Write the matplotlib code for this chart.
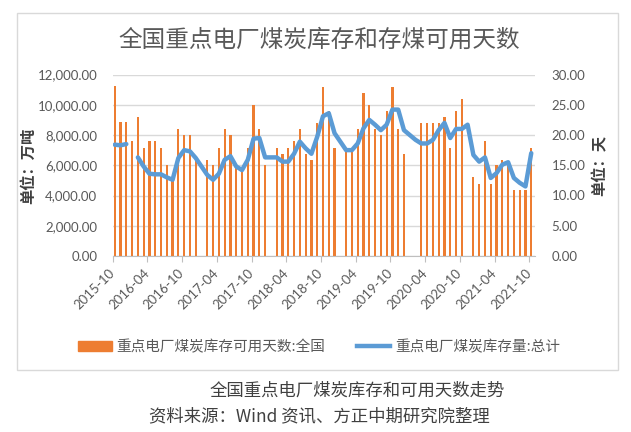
import numpy as np
import matplotlib
matplotlib.use("Agg")
import matplotlib.pyplot as plt
from matplotlib.patches import Rectangle, Patch
from matplotlib.lines import Line2D

CJK = ["Noto Sans CJK SC", "DejaVu Sans"]
NUM = ["Lato", "DejaVu Sans"]

# monthly, 2015-10 .. 2021-10
months = [f"{2015 + (9 + i) // 12}-{(9 + i) % 12 + 1:02d}" for i in range(73)]
tick_labels = months[::6]

nan = np.nan
# 重点电厂煤炭库存可用天数:全国 (天)
days = [28.1, 22.1, 22.1, 19.0, 22.9, 17.9, 19.0, 19.0, 17.9, 15.0,
        13.0, 21.0, 20.0, 20.0, 15.9, nan, 15.9, 15.0, 17.9, 21.0,
        20.0, 15.0, 14.2, 17.9, 25.0, 21.0, 15.0, nan, 17.9, 16.9,
        17.9, 19.0, 21.0, 16.9, 15.9, 22.0, 28.0, 23.9, 17.9, nan,
        17.4, 17.4, 21.0, 27.0, 25.0, 21.0, 20.0, 23.9, 28.0, 21.0,
        16.9, nan, nan, 22.0, 22.0, 22.0, 22.0, 22.9, 17.9, 23.9,
        25.9, nan, 13.0, 11.9, 19.0, 11.9, 15.0, 15.9, 15.0, 10.9,
        10.9, 10.9, 17.9]
# 重点电厂煤炭库存量:总计 (万吨)
stock = [7360, 7320, 7400, nan, 6520, 5920, 5440, 5400, 5400, 5200,
         5040, 6480, 7000, 6920, 6480, 5920, 5360, 5040, 5440, 6360,
         6600, 5920, 5680, 6360, 7760, 7800, 6520, 6520, 6520, 6240,
         6240, 6760, 7560, 7120, 6760, 7880, 9240, 9440, 8120, 7560,
         7000, 7000, 7440, 8440, 9000, 8680, 8320, 8680, 9680, 9680,
         8320, 8000, 7680, 7440, 7440, 7680, 8320, 8800, 7800, 8400,
         8400, 8680, 6680, 6240, 6520, 5160, 5480, 6040, 6200, 5160,
         4840, 4600, 6800]

x = np.arange(len(months))
W, H = 631, 432
fig = plt.figure(figsize=(W / 100, H / 100), dpi=100)
fig.patch.set_facecolor("white")

# chart frame
fig.patches.append(Rectangle((17 / W, 1 - 370 / H), 601 / W, 357 / H,
                             transform=fig.transFigure, fill=False,
                             edgecolor="#D9D9D9", linewidth=1))

left, right, top, bottom = 112.7, 535.0, 74.5, 256.0
ax = fig.add_axes([left / W, 1 - bottom / H, (right - left) / W, (bottom - top) / H])
ax2 = ax.twinx()

ax.bar(x + 0.35, days, width=0.38, color="#ED7D31", zorder=2)
ax.set_ylim(0, 30)
ax.set_yticks(np.arange(0, 31, 5))
ax.yaxis.set_major_formatter(matplotlib.ticker.FuncFormatter(lambda v, p: f"{v:.2f}"))
ax.yaxis.set_ticks_position("right")
ax.grid(axis="y", color="#D9D9D9", linewidth=1, zorder=0)
ax.set_axisbelow(True)

ax2.plot(x + 0.35, stock, color="#5B9BD5", linewidth=3.2, solid_joinstyle="round",
         solid_capstyle="round")
ax2.set_ylim(0, 12000)
ax2.set_yticks(np.arange(0, 12001, 2000))
ax2.yaxis.set_major_formatter(matplotlib.ticker.FuncFormatter(lambda v, p: f"{v:,.2f}"))
ax2.yaxis.set_ticks_position("left")

ax.set_xlim(0, 73)
ax.set_xticks(x[::6])
ax.set_xticklabels(tick_labels, rotation=45, ha="right", va="center",
                   rotation_mode="anchor", family=NUM, fontsize=9.5, color="#595959")
ax.tick_params(axis="x", length=4, color="#BFBFBF", pad=7)
ax.tick_params(axis="y", length=0, pad=12, labelsize=9.5, labelcolor="#595959")
ax2.tick_params(axis="y", length=0, pad=11, labelsize=9.5, labelcolor="#595959")
for a in (ax, ax2):
    for t in a.get_yticklabels():
        t.set_family(NUM)
    for s in ("top", "left", "right"):
        a.spines[s].set_visible(False)
    a.spines["bottom"].set_color("#BFBFBF")
ax2.spines["bottom"].set_visible(False)

fig.text(28 / W, 1 - 166 / H, "单位：万吨", rotation=90, ha="center", va="center",
         family=CJK, fontsize=11, fontweight="bold", color="#404040")
fig.text(600 / W, 1 - 166 / H, "单位：天", rotation=90, ha="center", va="center",
         family=CJK, fontsize=11, fontweight="bold", color="#404040")

fig.text(319 / W, 1 - 40 / H, "全国重点电厂煤炭库存和存煤可用天数", ha="center", va="center",
         family=CJK, fontsize=17, color="#595959")

handles = [Patch(color="#ED7D31"), Line2D([], [], color="#5B9BD5", linewidth=3.2)]
labels = ["重点电厂煤炭库存可用天数:全国", "重点电厂煤炭库存量:总计"]
fig.legend(handles, labels, loc="center left", bbox_to_anchor=(78 / W, 1 - 346.7 / H),
           ncol=2, frameon=False, borderpad=0, borderaxespad=0, handlelength=2.3,
           handletextpad=0.3, columnspacing=2.2, prop={"family": CJK, "size": 10.5},
           labelcolor="#595959")

fig.text(357 / W, 1 - 390.7 / H, "全国重点电厂煤炭库存和可用天数走势", ha="center", va="center",
         family=CJK, fontsize=12.5, color="#404040")
fig.text(149 / W, 1 - 416.7 / H, "资料来源：Wind 资讯、方正中期研究院整理", ha="left", va="center",
         family=CJK, fontsize=12.5, color="#404040")

fig.savefig("out.png", dpi=100)
